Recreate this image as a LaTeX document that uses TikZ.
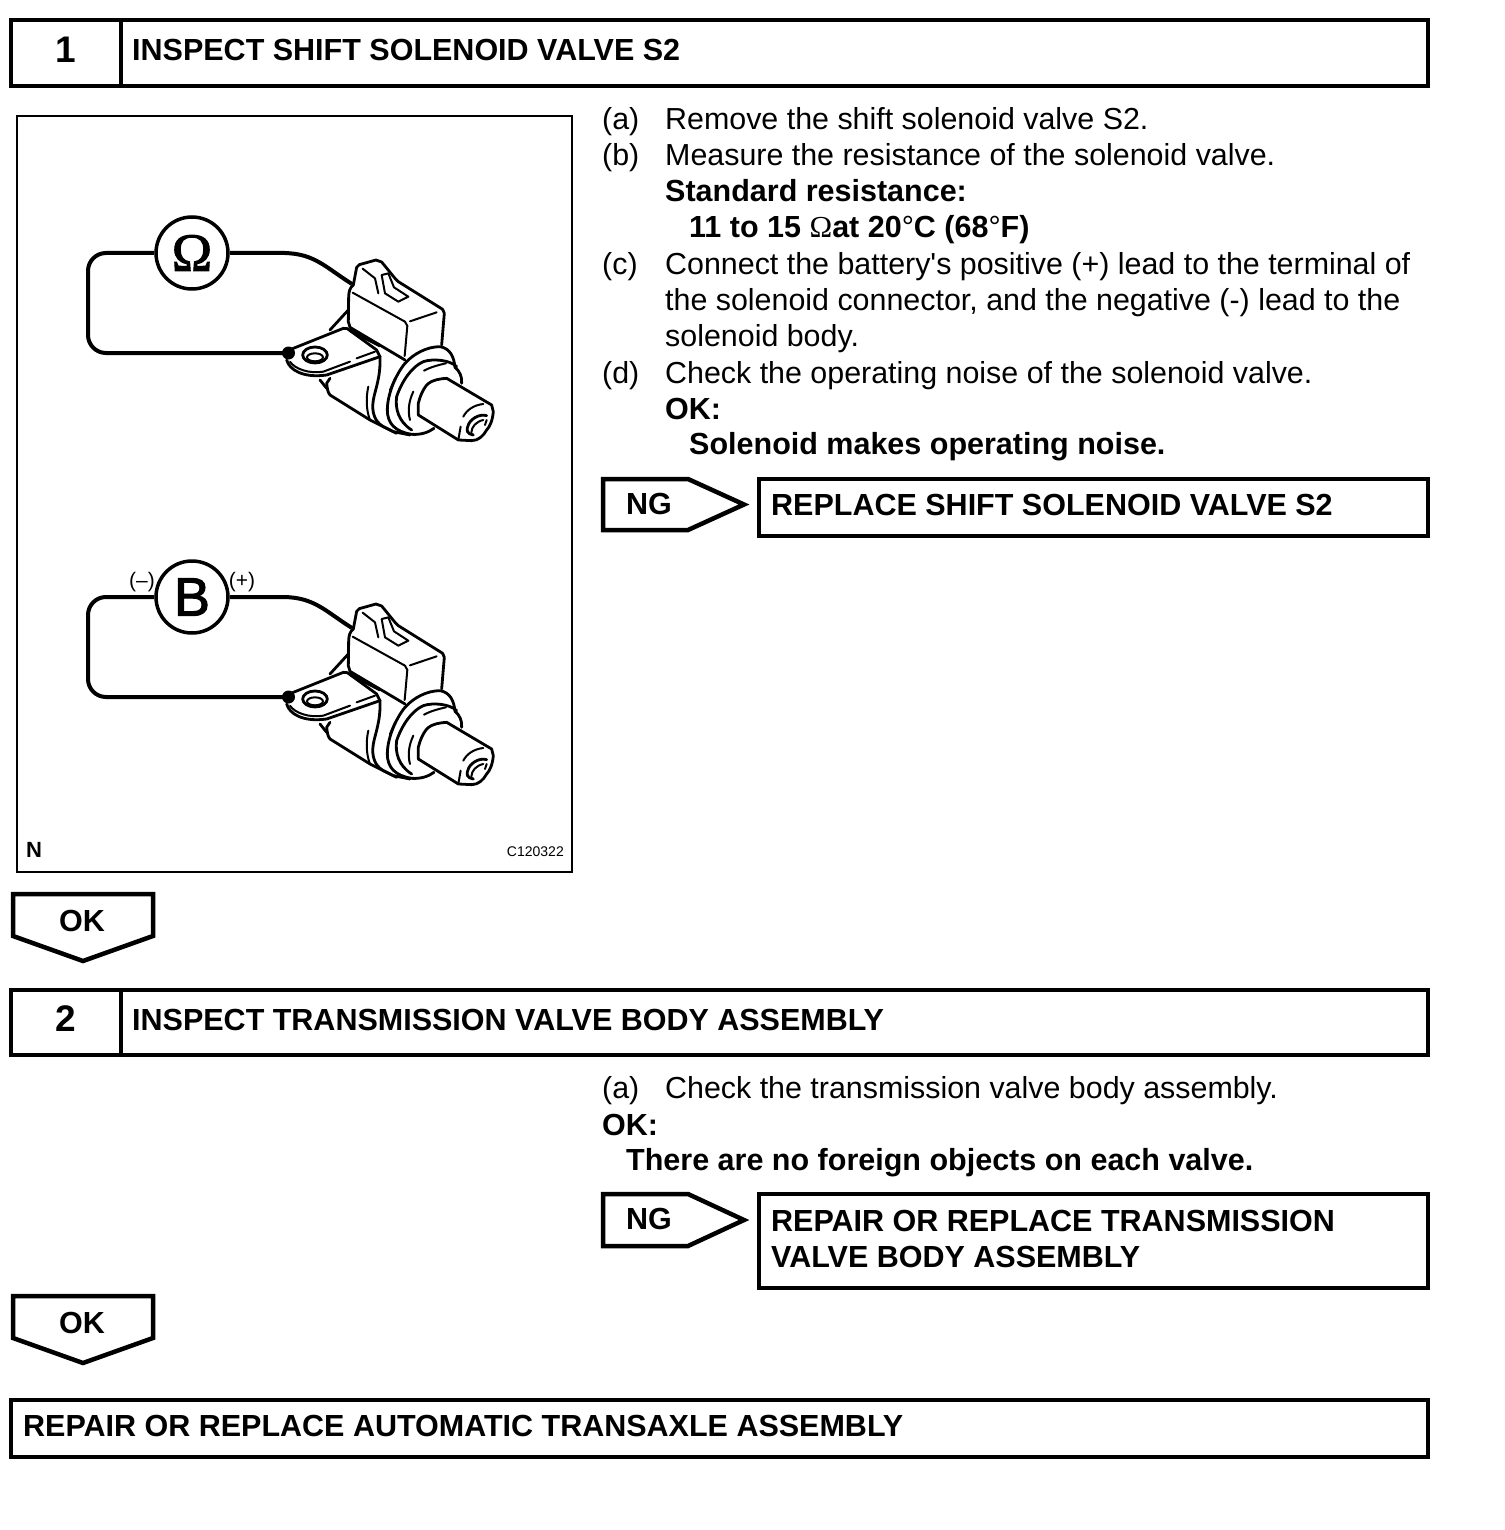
\documentclass[tikz,border=0pt]{standalone}
\usepackage{fontspec}
\setmainfont{Liberation Sans}[Ligatures=TeXOff]
\newfontfamily\omegafont{Liberation Serif}
\newfontfamily\meterohm{Liberation Serif}[FakeBold=2]
\newfontfamily\meterbat{Liberation Sans}[FakeBold=2]
\tikzset{
  hbox/.style={draw=black,line width=4.5pt,line join=miter},
  frame/.style={draw=black,line width=2.5pt},
  wire/.style={draw=black,line width=4pt},
  meter/.style={circle,draw=black,line width=3.5pt,fill=white,minimum size=72pt,inner sep=0pt},
  body/.style={anchor=base west,inner sep=0pt,font=\fontsize{30.4}{36}\selectfont},
  bodyb/.style={anchor=base west,inner sep=0pt,font=\fontsize{30.5}{36}\selectfont\bfseries},
  head/.style={anchor=base west,inner sep=0pt,font=\fontsize{30.5}{36}\selectfont\bfseries},
  num/.style={anchor=base,inner sep=0pt,font=\fontsize{37}{36}\selectfont\bfseries},
  pol/.style={anchor=base,inner sep=0pt,font=\fontsize{21}{21}\selectfont},
  tlh/.style={draw=black,line width=2.8pt,line join=round,line cap=round},
  tl/.style={draw=black,line width=2pt,line join=round,line cap=round},
  solenoid/.pic={
    \begin{scope}[x=0.3333pt,y=-0.3333pt]
    % connector housing
    \path[tlh] (250,105) -- (260,52) -- (268,44) -- (318,30) -- (335,36) -- (375,85) -- (385,95) -- (518,178) -- (523,190) -- (515,285);
    \path[tlh] (250,105) .. controls (238,115) and (237,125) .. (236,140) -- (235,215) -- (240,232) -- (405,330);
    \path[tl] (248,128) -- (405,215) -- (412,228) -- (404,318);
    \path[tl] (420,214) -- (500,187);
    \path[tl] (278,56) -- (315,85) -- (325,130);
    \path[tl] (335,75) -- (355,70) -- (372,112) -- (415,140) -- (385,155) -- (345,130) -- cycle;
    % bracket
    \path[tlh] (180,240) -- (235,180);
    \path[tlh] (55,305) -- (70,295) -- (220,235) -- (232,236) -- (320,300) -- (330,320);
    \path[draw=black,line width=3.4pt,line cap=round] (240,241) -- (330,287);
    \path[tlh] (50,330) .. controls (58,360) and (100,385) .. (170,375) -- (330,320);
    \path[tl] (60,335) .. controls (75,358) and (120,372) .. (160,365) -- (240,335);
    \path[tl] (260,325) -- (315,305);
    \path[tlh] (135,315) ellipse [x radius=37,y radius=24];
    \path[tl] (135,322) ellipse [x radius=24,y radius=12];
    % lower body
    \path[tlh] (150,390) -- (170,415);
    \path[tlh] (180,385) -- (170,400) .. controls (172,415) and (172,425) .. (180,435) -- (300,510) -- (370,545) -- (420,555);
    \path[tlh] (330,320) .. controls (332,370) and (322,400) .. (312,440) .. controls (305,470) and (305,510) .. (340,530) -- (380,550);
    \path[tl] (295,410) .. controls (288,440) and (288,480) .. (300,510);
    % flanges
    \path[tlh] (405,340) .. controls (430,312) and (470,290) .. (510,290) .. controls (540,295) and (552,320) .. (555,352) .. controls (568,362) and (577,380) .. (575,400);
    \path[tlh] (405,340) .. controls (380,370) and (352,430) .. (352,480) .. controls (352,520) and (375,545) .. (425,553) .. controls (450,555) and (475,548) .. (492,535);
    \path[tlh] (560,350) .. controls (540,330) and (490,325) .. (460,335) .. controls (425,350) and (395,395) .. (380,440) .. controls (375,475) and (385,515) .. (425,540);
    \path[tl] (462,362) .. controls (480,352) and (505,345) .. (528,340);
    \path[tl] (430,425) .. controls (418,450) and (412,480) .. (420,510);
    \path[tl] (375,385) -- (360,420);
    % shaft
    \path[tlh] (530,385) -- (665,465) -- (670,485) .. controls (668,510) and (660,530) .. (650,540) .. controls (640,558) and (625,572) .. (605,572) -- (565,570) -- (445,495) -- (445,460) .. controls (450,440) and (455,430) .. (460,420) .. controls (470,400) and (485,388) .. (530,385);
    \path[tl] (640,462) .. controls (612,465) and (590,480) .. (580,500);
    \path[tl] (572,530) -- (565,570);
    % end recess
    \path[tlh] (650,497) .. controls (625,490) and (600,510) .. (595,525) .. controls (588,540) and (590,552) .. (610,555);
    \path[tl] (640,510) .. controls (618,515) and (605,530) .. (604,548);
    \path[tl] (650,510) -- (645,525);
    \end{scope}
  }
}
\begin{document}
\begin{tikzpicture}[x=1pt,y=-1pt]
\useasboundingbox (0,0) rectangle (1504,1530);
% header 1
\draw[hbox] (11,20) rectangle (1428,86);
\draw[hbox] (121,20) -- (121,86);
\node[num] (n1) at (66,63) {1};
\node[head] (t1) at (132,61) {INSPECT SHIFT SOLENOID VALVE S2};
% illustration frame
\draw[frame] (17,116) rectangle (572,872);
\node[anchor=base west,inner sep=0pt,font=\fontsize{22}{22}\selectfont\bfseries] (fn) at (26,857) {N};
\node[anchor=base east,inner sep=0pt,font=\fontsize{14}{14}\selectfont] (fc) at (564,856) {C120322};
% meter 1
\node[meter,font=\fontsize{54}{54}\meterohm] (ohm) at (192,253) {Ω};
\coordinate (t1a) at (352,284);
\node[circle,fill=black,minimum size=13pt,inner sep=0pt] (d1) at (288.5,353) {};
\pic at (270,250) {solenoid};
\draw[wire] (ohm.east) -- (285,253) .. controls (315,254) and (325,267) .. (t1a);
\draw[wire,rounded corners=18pt] (ohm.west) -- (88,253) -- (88,353) -- (d1.center);
% meter 2
\node[meter,font=\fontsize{54}{54}\meterbat] (bat) at (192,597) {B};
\coordinate (t2a) at (352,628);
\node[circle,fill=black,minimum size=13pt,inner sep=0pt] (d2) at (288.5,697) {};
\pic at (270,594) {solenoid};
\draw[wire] (bat.east) -- (285,597) .. controls (315,598) and (325,611) .. (t2a);
\draw[wire,rounded corners=18pt] (bat.west) -- (88,597) -- (88,697) -- (d2.center);
\node[pol] (lm) at (142,587) {(–)};
\node[pol] (lp) at (242,587) {(+)};
% step 1 text
\node[body] (a1) at (602,130) {(a)};
\node[body] (a2) at (665,130) {Remove the shift solenoid valve S2.};
\node[body] (b1) at (602,166) {(b)};
\node[body] (b2) at (665,166) {Measure the resistance of the solenoid valve.};
\node[bodyb] (b3) at (665,202) {Standard resistance:};
\node[bodyb] (b4) at (689,238) {11 to 15 {\omegafont\mdseries Ω}at 20{\mdseries °}C (68{\mdseries °}F)};
\node[body] (c1) at (602,274) {(c)};
\node[body] (c2) at (665,274) {Connect the battery's positive (+) lead to the terminal of};
\node[body] (c3) at (665,310) {the solenoid connector, and the negative (-) lead to the};
\node[body] (c4) at (665,346) {solenoid body.};
\node[body] (d1t) at (602,383) {(d)};
\node[body] (d2t) at (665,383) {Check the operating noise of the solenoid valve.};
\node[bodyb] (d3) at (665,419) {OK:};
\node[bodyb] (d4) at (689,454) {Solenoid makes operating noise.};
% NG 1
\draw[hbox] (603,479) -- (688,479) -- (744,504.5) -- (688,530) -- (603,530) -- cycle;
\node[head] (ng1) at (626,514) {NG};
\draw[hbox] (759,479) rectangle (1428,536);
\node[head] (r1) at (771,515) {REPLACE SHIFT SOLENOID VALVE S2};
% OK 1
\draw[hbox] (13,894) -- (153,894) -- (153,936) -- (83,961) -- (13,936) -- cycle;
\node[head,anchor=base] (ok1) at (82,931) {OK};
% header 2
\draw[hbox] (11,990) rectangle (1428,1055);
\draw[hbox] (121,990) -- (121,1055);
\node[num] (n2) at (66,1031) {2};
\node[head] (t2) at (132,1030) {INSPECT TRANSMISSION VALVE BODY ASSEMBLY};
% step 2 text
\node[body] (e1) at (602,1098) {(a)};
\node[body] (e2) at (665,1098) {Check the transmission valve body assembly.};
\node[bodyb] (e3) at (602,1135) {OK:};
\node[bodyb] (e4) at (626,1170) {There are no foreign objects on each valve.};
% NG 2
\draw[hbox] (603,1194) -- (688,1194) -- (744,1220) -- (688,1246) -- (603,1246) -- cycle;
\node[head] (ng2) at (626,1229) {NG};
\draw[hbox] (759,1194) rectangle (1428,1288);
\node[head] (r2) at (771,1231) {REPAIR OR REPLACE TRANSMISSION};
\node[head] (r3) at (771,1267) {VALVE BODY ASSEMBLY};
% OK 2
\draw[hbox] (13,1296) -- (153,1296) -- (153,1338) -- (83,1363) -- (13,1338) -- cycle;
\node[head,anchor=base] (ok2) at (82,1333) {OK};
% final
\draw[hbox] (11,1400) rectangle (1428,1457);
\node[head] (fin) at (23,1436) {REPAIR OR REPLACE AUTOMATIC TRANSAXLE ASSEMBLY};
\end{tikzpicture}
\end{document}
